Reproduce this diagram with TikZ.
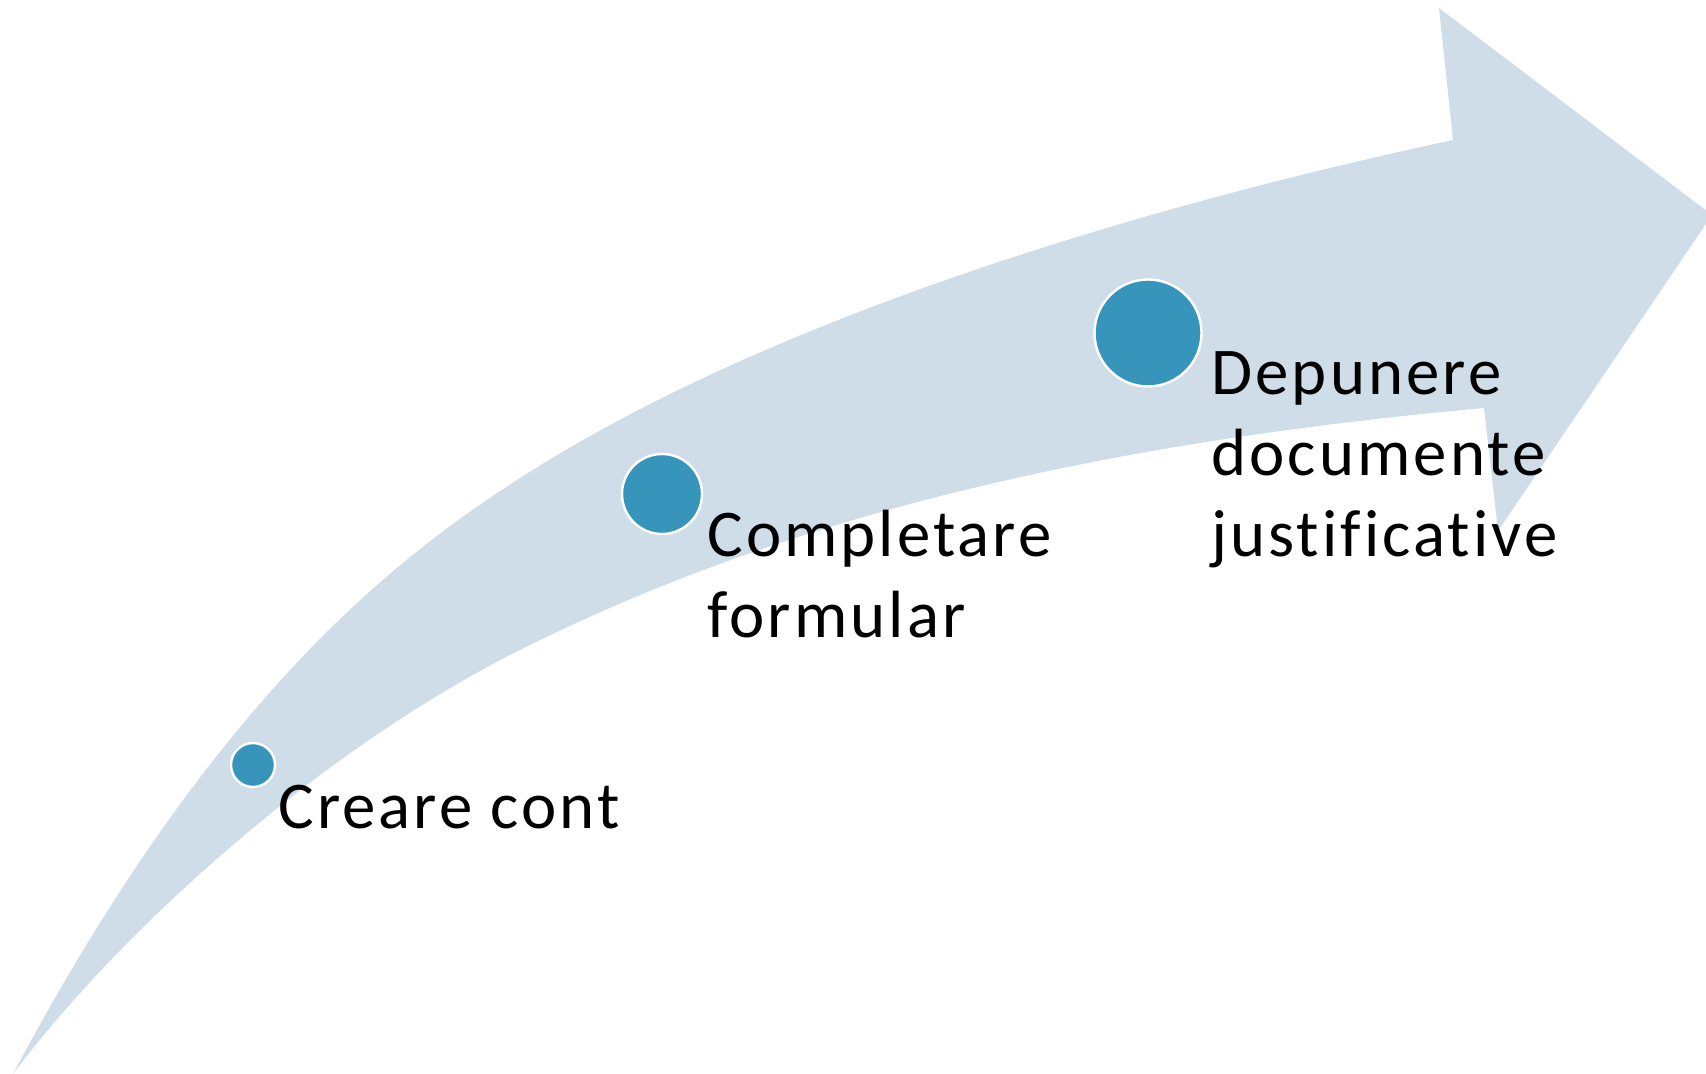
\documentclass[tikz,border=0pt]{standalone}
\usepackage{fontspec}
\setmainfont{Carlito}[LetterSpace=4.6,Ligatures=CommonOff]
\definecolor{bandcol}{RGB}{206,221,231}
\definecolor{dotcol}{RGB}{55,149,187}
\tikzset{
  band/.style={fill=bandcol},
  dot/.style={circle, fill=dotcol, draw=white, line width=1.2pt, inner sep=0pt},
  steplabel/.style={anchor=base west, inner sep=0pt, align=left,
    font=\fontsize{33.4pt}{40.5pt}\selectfont, text=black}
}
\begin{document}
\begin{tikzpicture}[x=0.5pt,y=-0.5pt]
\useasboundingbox (0,0) rectangle (1706,1074);
\clip (0,0) rectangle (1706,1074);
\fill[band] (13,1074) .. controls (220,685) and (408,548) .. (536,468)
  .. controls (780,316) and (1140,207) .. (1453,140)
  -- (1439,8) -- (1712,215) -- (1498,531) -- (1484,408)
  .. controls (1144,439) and (815,502) .. (520,650)
  .. controls (323,748) and (121,930) .. (13,1074) -- cycle;
\node[dot, minimum size=22pt] (c1) at (253,765) {};
\node[dot, minimum size=40pt] (c2) at (662,494) {};
\node[dot, minimum size=53.5pt] (c3) at (1148,333) {};
\node[steplabel] (t1) at (278,828) {Creare cont};
\node[steplabel] (t2) at (707,637) {Completare\\formular};
\node[steplabel] (t3) at (1211,556) {Depunere\\documente\\justificative};
\end{tikzpicture}
\end{document}
